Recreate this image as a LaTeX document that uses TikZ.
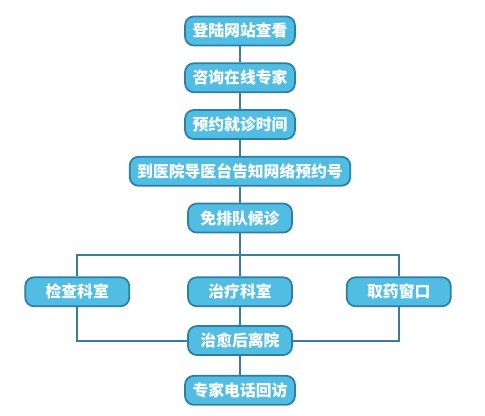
\documentclass[tikz,border=0pt]{standalone}
\usepackage{fontspec}
\newfontfamily\cjk{Noto Sans CJK SC}
\usetikzlibrary{positioning}
\definecolor{boxfill}{HTML}{52BDE2}
\definecolor{boxline}{HTML}{2A7FA6}
\definecolor{linkline}{HTML}{3A7C9E}

\begin{document}
\begin{tikzpicture}[
        stepbox/.style={draw=boxline, line width=1pt, fill=boxfill, rounded corners=5pt,
            minimum width=2.08cm, minimum height=0.58cm, inner xsep=0.15cm,
            text=white, font=\cjk\bfseries\fontsize{9}{10}\selectfont},
        link/.style={draw=linkline, line width=1.1pt},
        node distance=0.32cm]
        \useasboundingbox (0,0) rectangle (9.7,8.3);
        % main column
        \node[stepbox] (login) at (4.8,7.68) {登陆网站查看};
        \node[stepbox, below=of login] (consult) {咨询在线专家};
        \node[stepbox, below=of consult] (book) {预约就诊时间};
        \node[stepbox, below=of book] (desk) {到医院导医台告知网络预约号};
        \node[stepbox, below=of desk] (wait) {免排队候诊};
        % three departments
        \node[stepbox, below=0.86cm of wait] (treat) {治疗科室};
        \node[stepbox, left=1.14cm of treat] (check) {检查科室};
        \node[stepbox, right=1.06cm of treat] (drug) {取药窗口};
        \node[stepbox, below=0.36cm of treat] (leave) {治愈后离院};
        \node[stepbox, below=0.38cm of leave] (visit) {专家电话回访};
        \coordinate[below=0.43cm of wait] (fork);

        \draw[link] (login) -- (consult);
        \draw[link] (consult) -- (book);
        \draw[link] (book) -- (desk);
        \draw[link] (desk) -- (wait);
        \draw[link] (wait) -- (treat);
        \draw[link] (check.north) |- (fork) -| (drug.north);
        \draw[link] (treat) -- (leave);
        \draw[link] (check.south) |- (leave.west);
        \draw[link] (drug.south) |- (leave.east);
        \draw[link] (leave) -- (visit);
    \end{tikzpicture}
\end{document}
